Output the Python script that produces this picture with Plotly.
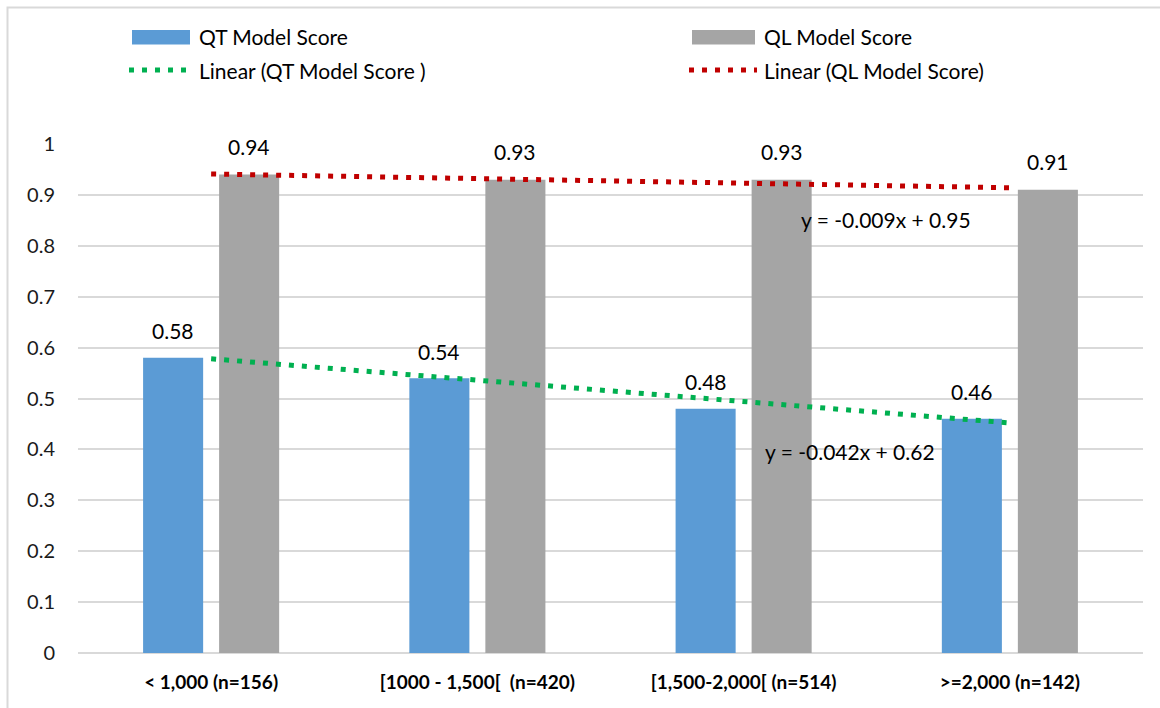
import numpy as np
import plotly.graph_objects as go

# Score by income band
categories = ["< 1,000 (n=156)", "[1000 - 1,500[\u00a0 (n=420)",
              "[1,500-2,000[ (n=514)", ">=2,000 (n=142)"]
qt_scores = [0.58, 0.54, 0.48, 0.46]
ql_scores = [0.94, 0.93, 0.93, 0.91]
y_ticks = [0, 0.1, 0.2, 0.3, 0.4, 0.5, 0.6, 0.7, 0.8, 0.9, 1]

QT_BLUE = "#5B9BD5"
QL_GREY = "#A5A5A5"
QT_TREND = "#00B050"
QL_TREND = "#C00000"
GRID = "#D9D9D9"
FONT = "Lato"

W, H = 1160, 708
M_L, M_R, M_T, M_B = 78, 17, 144, 55
PW, PH = W - M_L - M_R, H - M_T - M_B


def px(x):
    return (x - M_L) / PW


def py(y):
    return (H - M_B - y) / PH


# Linear (least squares) trends over category index 1..n
idx = np.arange(1, len(categories) + 1)
qt_fit = np.polyfit(idx, qt_scores, 1)
ql_fit = np.polyfit(idx, ql_scores, 1)
qt_line = np.polyval(qt_fit, idx)
ql_line = np.polyval(ql_fit, idx)

fig = go.Figure()
fig.add_bar(x=categories, y=qt_scores, name="QT Model Score",
            marker=dict(color=QT_BLUE, line=dict(width=0)), showlegend=False)
fig.add_bar(x=categories, y=ql_scores, name="QL Model Score",
            marker=dict(color=QL_GREY, line=dict(width=0)), showlegend=False)
fig.add_scatter(x=categories, y=qt_line, mode="lines", name="Linear (QT Model Score )",
                line=dict(color=QT_TREND, width=5, dash="5px,8px"), showlegend=False)
fig.add_scatter(x=categories, y=ql_line, mode="lines", name="Linear (QL Model Score)",
                line=dict(color=QL_TREND, width=5, dash="5px,8px"), showlegend=False)

annotations = []
# value labels above each bar
slot = PW / len(categories) * (1 - 0.429) / 2
for cat, v in zip(categories, qt_scores):
    annotations.append(dict(x=cat, y=v, xref="x", yref="y", text=f"{v:.2f}",
                            showarrow=False, xshift=-slot / 2, yshift=27,
                            yanchor="middle", font=dict(size=21, color="#000")))
for cat, v in zip(categories, ql_scores):
    annotations.append(dict(x=cat, y=v, xref="x", yref="y", text=f"{v:.2f}",
                            showarrow=False, xshift=slot / 2, yshift=28,
                            yanchor="middle", font=dict(size=21, color="#000")))


def eq_text(fit):
    return f"y = {fit[0]:.3f}x + {fit[1]:.2f}"


annotations.append(dict(x=px(799), y=py(219), xref="paper", yref="paper",
                        text=eq_text(ql_fit), showarrow=False, xanchor="left",
                        yanchor="middle", font=dict(size=21, color="#000")))
annotations.append(dict(x=px(763), y=py(451), xref="paper", yref="paper",
                        text=eq_text(qt_fit), showarrow=False, xanchor="left",
                        yanchor="middle", font=dict(size=21, color="#000")))

# legend texts
legend_items = [
    (197, 37, "QT Model Score"),
    (762, 37, "QL Model Score"),
    (197, 70, "Linear (QT Model Score )"),
    (762, 70, "Linear (QL Model Score)"),
]
for lx, ly, txt in legend_items:
    annotations.append(dict(x=px(lx), y=py(ly), xref="paper", yref="paper",
                            text=txt, showarrow=False, xanchor="left",
                            yanchor="middle", font=dict(size=21, color="#000")))

shapes = [
    # chart area border
    dict(type="rect", xref="paper", yref="paper", x0=px(7.5), x1=px(1175),
         y0=py(720), y1=py(7.5), line=dict(color=GRID, width=2), layer="below"),
    # legend swatches
    dict(type="rect", xref="paper", yref="paper", x0=px(132), x1=px(190),
         y0=py(44.5), y1=py(30), fillcolor=QT_BLUE, line=dict(width=0)),
    dict(type="rect", xref="paper", yref="paper", x0=px(692), x1=px(755),
         y0=py(44.5), y1=py(30), fillcolor=QL_GREY, line=dict(width=0)),
    dict(type="line", xref="paper", yref="paper", x0=px(129), x1=px(192),
         y0=py(70), y1=py(70), line=dict(color=QT_TREND, width=5, dash="5px,8px")),
    dict(type="line", xref="paper", yref="paper", x0=px(689), x1=px(757),
         y0=py(70), y1=py(70), line=dict(color=QL_TREND, width=5, dash="5px,8px")),
]

fig.update_layout(
    width=W, height=H,
    margin=dict(l=M_L, r=M_R, t=M_T, b=M_B, pad=0),
    paper_bgcolor="white", plot_bgcolor="white",
    font=dict(family=FONT, color="#000"),
    barmode="group", bargap=0.429, bargroupgap=0.21,
    showlegend=False,
    annotations=annotations,
    shapes=shapes,
)
fig.update_xaxes(showgrid=False, showline=False, ticks="",
                 tickfont=dict(size=19, family=FONT, color="#000", weight="bold"),
                 ticklabelstandoff=16)
fig.update_yaxes(range=[0, 1.0], tickvals=y_ticks,
                 ticktext=[f"{t:g}" for t in y_ticks],
                 showgrid=True, gridcolor=GRID, gridwidth=1.5,
                 zeroline=True, zerolinecolor=GRID, zerolinewidth=1.5,
                 showline=False, ticks="", ticklabelstandoff=22,
                 tickfont=dict(size=20, family=FONT, color="#1a1a1a"))

fig.write_html("out.html")
